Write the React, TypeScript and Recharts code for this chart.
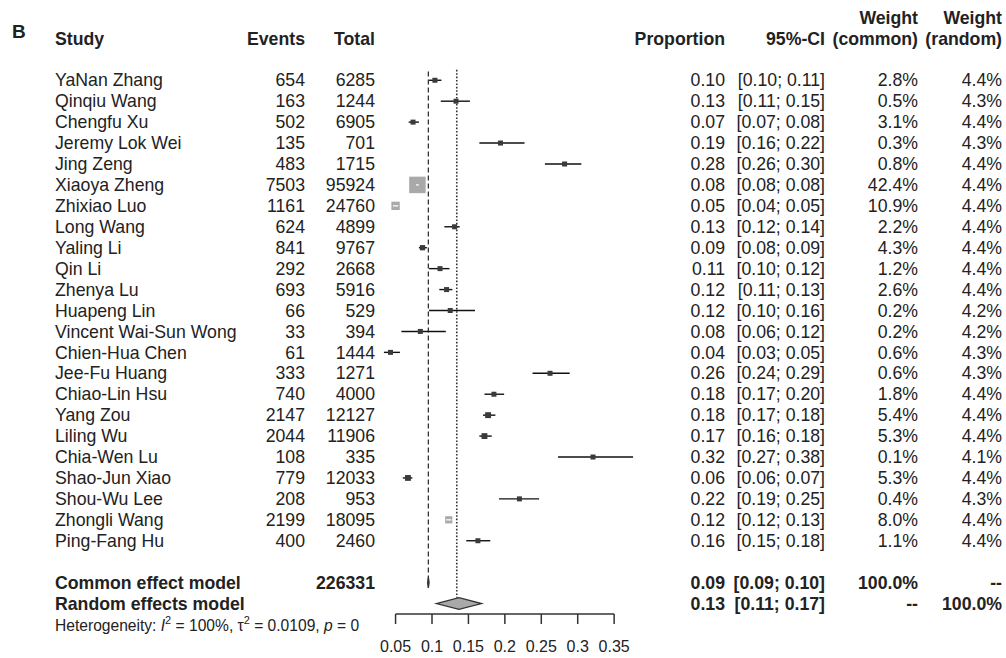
import { ErrorBar, ReferenceArea, ReferenceLine, Scatter, ScatterChart, XAxis, YAxis } from 'recharts'

const studies = [
  'YaNan Zhang', 'Qinqiu Wang', 'Chengfu Xu', 'Jeremy Lok Wei', 'Jing Zeng', 'Xiaoya Zheng',
  'Zhixiao Luo', 'Long Wang', 'Yaling Li', 'Qin Li', 'Zhenya Lu', 'Huapeng Lin',
  'Vincent Wai-Sun Wong', 'Chien-Hua Chen', 'Jee-Fu Huang', 'Chiao-Lin Hsu', 'Yang Zou',
  'Liling Wu', 'Chia-Wen Lu', 'Shao-Jun Xiao', 'Shou-Wu Lee', 'Zhongli Wang', 'Ping-Fang Hu',
]
const events = [654, 163, 502, 135, 483, 7503, 1161, 624, 841, 292, 693, 66, 33, 61, 333, 740, 2147, 2044, 108, 779, 208, 2199, 400]
const totals = [6285, 1244, 6905, 701, 1715, 95924, 24760, 4899, 9767, 2668, 5916, 529, 394, 1444, 1271, 4000, 12127, 11906, 335, 12033, 953, 18095, 2460]

// printed columns
const printedProp = [0.10, 0.13, 0.07, 0.19, 0.28, 0.08, 0.05, 0.13, 0.09, 0.11, 0.12, 0.12, 0.08, 0.04, 0.26, 0.18, 0.18, 0.17, 0.32, 0.06, 0.22, 0.12, 0.16]
const printedLow = [0.10, 0.11, 0.07, 0.16, 0.26, 0.08, 0.04, 0.12, 0.08, 0.10, 0.11, 0.10, 0.06, 0.03, 0.24, 0.17, 0.17, 0.16, 0.27, 0.06, 0.19, 0.12, 0.15]
const printedHigh = [0.11, 0.15, 0.08, 0.22, 0.30, 0.08, 0.05, 0.14, 0.09, 0.12, 0.13, 0.16, 0.12, 0.05, 0.29, 0.20, 0.18, 0.18, 0.38, 0.07, 0.25, 0.13, 0.18]
const weightCommon = [2.8, 0.5, 3.1, 0.3, 0.8, 42.4, 10.9, 2.2, 4.3, 1.2, 2.6, 0.2, 0.2, 0.6, 0.6, 1.8, 5.4, 5.3, 0.1, 5.3, 0.4, 8.0, 1.1]
const weightRandom = [4.4, 4.3, 4.4, 4.3, 4.4, 4.4, 4.4, 4.4, 4.4, 4.4, 4.4, 4.2, 4.2, 4.3, 4.3, 4.4, 4.4, 4.4, 4.1, 4.4, 4.3, 4.4, 4.4]

// plotted (unrounded) estimates as drawn
const estimate = [0.104, 0.133, 0.074, 0.194, 0.282, 0.080, 0.050, 0.131, 0.087, 0.111, 0.120, 0.125, 0.084, 0.043, 0.262, 0.185, 0.177, 0.172, 0.321, 0.067, 0.220, 0.123, 0.163]
const lower = [0.096, 0.112, 0.068, 0.165, 0.255, 0.078, 0.044, 0.117, 0.082, 0.096, 0.110, 0.096, 0.058, 0.034, 0.238, 0.172, 0.170, 0.165, 0.273, 0.060, 0.192, 0.120, 0.147]
const upper = [0.113, 0.152, 0.082, 0.227, 0.305, 0.082, 0.051, 0.138, 0.093, 0.124, 0.128, 0.159, 0.119, 0.056, 0.289, 0.199, 0.187, 0.182, 0.376, 0.073, 0.247, 0.127, 0.180]

const commonModel = { est: 0.095, low: 0.094, high: 0.096, text: '0.09', ci: '[0.09; 0.10]', total: 226331 }
const randomModel = { est: 0.134, low: 0.106, high: 0.168, text: '0.13', ci: '[0.11; 0.17]' }

const xTicks = [0.05, 0.1, 0.15, 0.2, 0.25, 0.3, 0.35]

const COMMON_ROW = 24
const RANDOM_ROW = 25
const rowTicks = [-3, -2, ...studies.map((_, i) => i), COMMON_ROW, RANDOM_ROW]

const FONT = 'Arial, "Liberation Sans", Helvetica, sans-serif'
const INK = '#222'
const FS = 17.7
const COL = { study: 55, events: 305, total: 375, prop: 725, ci: 825, wCommon: 918, wRandom: 1002 }
const LEFT_W = 381
const RIGHT_W = 370
const PX_PER_UNIT = (1006 - LEFT_W - RIGHT_W) / 0.35

const boxSide = (w: number) => Math.max(5, 16.5 * Math.sqrt(w / 42.4))

const rows = studies.map((name, i) => {
  const side = boxSide(weightCommon[i])
  const ciPx = (upper[i] - lower[i]) * PX_PER_UNIT
  const inside = ciPx < side
  return {
    name,
    x: estimate[i],
    y: i,
    side,
    ciPx,
    inside,
    err: inside ? [0, 0] : [estimate[i] - lower[i], upper[i] - estimate[i]],
  }
})

const f2 = (v: number) => v.toFixed(2)

function Txt({ x, y, children, anchor = 'start', bold = false, size = FS }: any) {
  return (
    <text x={x} y={y} dy="0.35em" textAnchor={anchor} fontFamily={FONT} fontSize={size}
      fontWeight={bold ? 700 : 400} fill={INK}>
      {children}
    </text>
  )
}

// one row of the table (left and right columns), placed by the y scale
function RowCells({ y, payload }: any) {
  const v = payload.value
  if (v === -3) {
    return (
      <g>
        <Txt x={COL.wCommon} y={y} anchor="end" bold>Weight</Txt>
        <Txt x={COL.wRandom} y={y} anchor="end" bold>Weight</Txt>
      </g>
    )
  }
  if (v === -2) {
    return (
      <g>
        <Txt x={12} y={y - 7} bold size={19}>B</Txt>
        <Txt x={COL.study} y={y} bold>Study</Txt>
        <Txt x={COL.events} y={y} anchor="end" bold>Events</Txt>
        <Txt x={COL.total} y={y} anchor="end" bold>Total</Txt>
        <Txt x={COL.prop} y={y} anchor="end" bold>Proportion</Txt>
        <Txt x={COL.ci} y={y} anchor="end" bold>95%-CI</Txt>
        <Txt x={COL.wCommon} y={y} anchor="end" bold>(common)</Txt>
        <Txt x={COL.wRandom} y={y} anchor="end" bold>(random)</Txt>
      </g>
    )
  }
  if (v === COMMON_ROW) {
    return (
      <g>
        <Txt x={COL.study} y={y} bold>Common effect model</Txt>
        <Txt x={COL.total} y={y} anchor="end" bold>{commonModel.total}</Txt>
        <Txt x={COL.prop} y={y} anchor="end" bold>{commonModel.text}</Txt>
        <Txt x={COL.ci} y={y} anchor="end" bold>{commonModel.ci}</Txt>
        <Txt x={COL.wCommon} y={y} anchor="end" bold>100.0%</Txt>
        <Txt x={COL.wRandom} y={y} anchor="end" bold>--</Txt>
      </g>
    )
  }
  if (v === RANDOM_ROW) {
    return (
      <g>
        <Txt x={COL.study} y={y} bold>Random effects model</Txt>
        <Txt x={COL.prop} y={y} anchor="end" bold>{randomModel.text}</Txt>
        <Txt x={COL.ci} y={y} anchor="end" bold>{randomModel.ci}</Txt>
        <Txt x={COL.wCommon} y={y} anchor="end" bold>--</Txt>
        <Txt x={COL.wRandom} y={y} anchor="end" bold>100.0%</Txt>
        <text x={COL.study} y={y + 22} dy="0.35em" fontFamily={FONT} fontSize={15.6} fill={INK}>
          Heterogeneity: <tspan fontStyle="italic">I</tspan>
          <tspan dy={-7} fontSize={11}>2</tspan>
          <tspan dy={7}> = 100%, τ</tspan>
          <tspan dy={-7} fontSize={11}>2</tspan>
          <tspan dy={7}> = 0.0109, </tspan>
          <tspan fontStyle="italic">p</tspan> = 0
        </text>
      </g>
    )
  }
  if (v >= 0 && v < studies.length) {
    return (
      <g>
        <Txt x={COL.study} y={y}>{studies[v]}</Txt>
        <Txt x={COL.events} y={y} anchor="end">{events[v]}</Txt>
        <Txt x={COL.total} y={y} anchor="end">{totals[v]}</Txt>
        <Txt x={COL.prop} y={y} anchor="end">{f2(printedProp[v])}</Txt>
        <Txt x={COL.ci} y={y} anchor="end">{`[${f2(printedLow[v])}; ${f2(printedHigh[v])}]`}</Txt>
        <Txt x={COL.wCommon} y={y} anchor="end">{`${weightCommon[v].toFixed(1)}%`}</Txt>
        <Txt x={COL.wRandom} y={y} anchor="end">{`${weightRandom[v].toFixed(1)}%`}</Txt>
      </g>
    )
  }
  return <g />
}

function StudyMarker({ cx, cy, payload }: any) {
  const s = payload.side
  return (
    <g>
      <rect x={cx - s / 2} y={cy - s / 2} width={s} height={s}
        fill={payload.inside ? '#a9a9a9' : '#3a3a3a'} />
      {payload.inside ? (
        <line x1={cx - Math.max(payload.ciPx, 2) / 2} x2={cx + Math.max(payload.ciPx, 2) / 2}
          y1={cy} y2={cy} stroke="#f2f2f2" strokeWidth={1.5} />
      ) : null}
    </g>
  )
}

function Diamond({ x, y, width, height }: any) {
  const mx = x + width / 2
  const my = y + height / 2
  return (
    <polygon points={`${x},${my} ${mx},${y} ${x + width},${my} ${mx},${y + height}`}
      fill="#a9a9a9" stroke="#333" strokeWidth={1.3} />
  )
}

export default function App() {
  return (
    <div style={{ position: 'absolute', left: 0, top: 0, width: 1006, height: 658, background: '#fff' }}>
      <ScatterChart width={1006} height={658} margin={{ top: 7, right: RIGHT_W, bottom: 0, left: 0 }}>
        <XAxis
          type="number"
          dataKey="x"
          domain={[0.03, 0.38]}
          ticks={xTicks}
          tickFormatter={(v: number) => String(v)}
          axisLine={false}
          tickLine={{ stroke: '#333', strokeWidth: 1.5 }}
          tickSize={10}
          tickMargin={17}
          height={44}
          interval={0}
          tick={{ fill: INK, fontSize: 16, fontFamily: FONT }}
        />
        <YAxis
          yAxisId="left"
          type="number"
          dataKey="y"
          domain={[-3.5, 25.5]}
          reversed
          ticks={rowTicks}
          interval={0}
          width={LEFT_W}
          axisLine={false}
          tickLine={false}
          tick={(p: any) => <RowCells {...p} />}
        />
        <ReferenceLine
          yAxisId="left"
          segment={[{ x: xTicks[0], y: 25.5 }, { x: xTicks[xTicks.length - 1], y: 25.5 }]}
          stroke="#333"
          strokeWidth={1.5}
          ifOverflow="visible"
        />
        <ReferenceLine
          yAxisId="left"
          segment={[{ x: commonModel.est, y: -0.42 }, { x: commonModel.est, y: COMMON_ROW + 0.25 }]}
          stroke="#333"
          strokeWidth={1.3}
          strokeDasharray="5 3"
        />
        <ReferenceLine
          yAxisId="left"
          segment={[{ x: randomModel.est, y: -0.5 }, { x: randomModel.est, y: RANDOM_ROW - 0.28 }]}
          stroke="#333"
          strokeWidth={1.6}
          strokeDasharray="1.6 1.8"
        />
        <Scatter
          yAxisId="left"
          data={rows}
          isAnimationActive={false}
          shape={(p: any) => <StudyMarker {...p} />}
        >
          <ErrorBar dataKey="err" direction="x" width={0} stroke="#111" strokeWidth={1.4} isAnimationActive={false} />
        </Scatter>
        <ReferenceArea
          yAxisId="left"
          x1={commonModel.low}
          x2={commonModel.high}
          y1={COMMON_ROW - 0.24}
          y2={COMMON_ROW + 0.24}
          shape={(p: any) => <Diamond {...p} />}
        />
        <ReferenceArea
          yAxisId="left"
          x1={randomModel.low}
          x2={randomModel.high}
          y1={RANDOM_ROW - 0.28}
          y2={RANDOM_ROW + 0.28}
          shape={(p: any) => <Diamond {...p} />}
        />
      </ScatterChart>
    </div>
  )
}
